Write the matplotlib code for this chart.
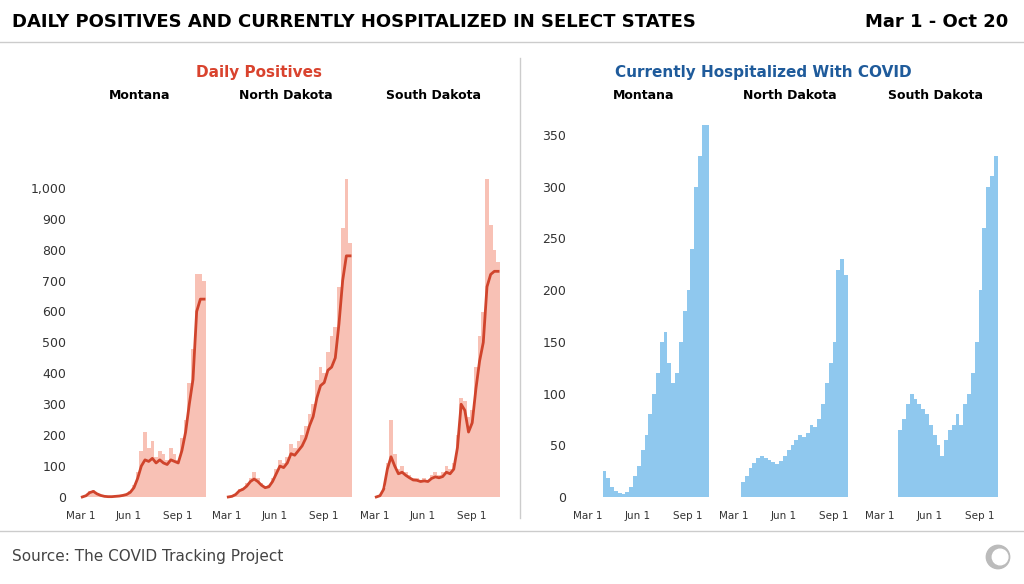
import numpy as np
import matplotlib
matplotlib.use("Agg")
import matplotlib.pyplot as plt
from matplotlib.patches import Circle

states = ["Montana", "North Dakota", "South Dakota"]
tick_days = [0, 92, 184]
tick_labels = ["Mar 1", "Jun 1", "Sep 1"]
# weekly values, week i starts at day 7*i from Mar 1
pos_bars = {
    "Montana": [0, 5, 18, 22, 12, 6, 3, 1, 1, 2, 4, 6, 10, 18, 40, 80, 150, 210, 160, 180, 130, 150, 140, 120, 160, 140, 120, 190, 250, 370, 480, 720, 720, 700],
    "North Dakota": [0, 3, 10, 25, 30, 45, 60, 80, 60, 45, 35, 40, 60, 90, 120, 110, 130, 170, 160, 180, 200, 230, 270, 300, 380, 420, 400, 470, 520, 550, 680, 870, 1030, 820],
    "South Dakota": [0, 5, 30, 110, 250, 140, 90, 100, 80, 70, 60, 60, 55, 60, 55, 70, 80, 70, 80, 100, 90, 110, 200, 320, 310, 260, 280, 420, 520, 600, 1030, 880, 800, 760],
}
pos_avg = {
    "Montana": [0, 4, 14, 18, 10, 5, 2, 1, 1, 2, 3, 5, 8, 15, 30, 60, 100, 120, 115, 125, 110, 120, 110, 105, 120, 115, 110, 150, 210, 300, 380, 600, 640, 640],
    "North Dakota": [0, 2, 8, 20, 25, 35, 50, 58, 50, 38, 30, 33, 50, 75, 100, 95, 110, 140, 135, 150, 165, 190, 230, 260, 320, 360, 370, 410, 420, 450, 560, 700, 780, 780],
    "South Dakota": [0, 4, 25, 90, 130, 100, 75, 80, 70, 62, 55, 54, 50, 52, 50, 60, 65, 62, 66, 80, 75, 90, 160, 300, 280, 210, 240, 350, 440, 500, 680, 720, 730, 730],
}
hosp = {
    "Montana": [np.nan, np.nan, np.nan, np.nan, 25, 18, 10, 6, 4, 3, 5, 10, 20, 30, 45, 60, 80, 100, 120, 150, 160, 130, 110, 120, 150, 180, 200, 240, 300, 330, 360, 360, np.nan, np.nan],
    "North Dakota": [np.nan, np.nan, 15, 20, 28, 33, 38, 40, 38, 36, 34, 32, 35, 40, 45, 50, 55, 60, 58, 62, 70, 68, 75, 90, 110, 130, 150, 220, 230, 215, np.nan, np.nan, np.nan, np.nan],
    "South Dakota": [np.nan, np.nan, np.nan, np.nan, np.nan, 65, 75, 90, 100, 95, 90, 85, 80, 70, 60, 50, 40, 55, 65, 70, 80, 70, 90, 100, 120, 150, 200, 260, 300, 310, 330, np.nan, np.nan, np.nan],
}

W, H = 1024, 584
fig = plt.figure(figsize=(W/100, H/100), dpi=100)
fig.patch.set_facecolor("white")

def ax_at(x0, x1, y0, y1):
    return fig.add_axes([x0/W, 1-y1/H, (x1-x0)/W, (y1-y0)/H])

weeks = np.arange(34)*7
left_x = [(72, 208), (218, 354), (366, 502)]
right_x = [(572, 716), (718, 862), (864, 1008)]
top, bot = 118, 505

for i, s in enumerate(states):
    ax = ax_at(*left_x[i], top, bot)
    ax.bar(weeks, pos_bars[s], width=7, align="edge", color="#f8c1b5", linewidth=0)
    ax.plot(weeks+3.5, pos_avg[s], color="#d0442c", lw=2)
    ax.set_xlim(-16, 242); ax.set_ylim(-26, 1226)
    ax.text(0.5, 1.05, s, transform=ax.transAxes, ha="center", fontsize=9, fontweight="bold")
    ax.set_xticks(tick_days); ax.set_xticklabels(tick_labels, fontsize=7.5, color="#333")
    if i == 0:
        ax.set_yticks([0, 100, 200, 300, 400, 500, 600, 700, 800, 900, 1000])
        ax.set_yticklabels(["0", "100", "200", "300", "400", "500", "600", "700", "800", "900", "1,000"], fontsize=9, color="#333")
    else:
        ax.set_yticks([])
    ax.tick_params(length=0, pad=4)
    for sp in ax.spines.values(): sp.set_visible(False)
    ax.patch.set_alpha(0)

    ax2 = ax_at(*right_x[i], top, bot)
    ax2.bar(weeks, hosp[s], width=7, align="edge", color="#8fc8ee", linewidth=0)
    ax2.set_xlim(-28, 236); ax2.set_ylim(-7.7, 366.5)
    ax2.text(0.5, 1.05, s, transform=ax2.transAxes, ha="center", fontsize=9, fontweight="bold")
    ax2.set_xticks(tick_days); ax2.set_xticklabels(tick_labels, fontsize=7.5, color="#333")
    if i == 0:
        ax2.set_yticks([0, 50, 100, 150, 200, 250, 300, 350])
        ax2.set_yticklabels([str(v) for v in [0, 50, 100, 150, 200, 250, 300, 350]], fontsize=9, color="#333")
    else:
        ax2.set_yticks([])
    ax2.tick_params(length=0, pad=4)
    for sp in ax2.spines.values(): sp.set_visible(False)
    ax2.patch.set_alpha(0)

fig.text(12/W, 1-22/H, "DAILY POSITIVES AND CURRENTLY HOSPITALIZED IN SELECT STATES", fontsize=13, fontweight="bold", va="center")
fig.text(1008/W, 1-22/H, "Mar 1 - Oct 20", fontsize=13, fontweight="bold", va="center", ha="right")
fig.text(259/W, 1-72/H, "Daily Positives", fontsize=11, fontweight="bold", color="#d9432e", ha="center", va="center")
fig.text(763/W, 1-72/H, "Currently Hospitalized With COVID", fontsize=11, fontweight="bold", color="#1f5b9b", ha="center", va="center")
fig.text(12/W, 1-557/H, "Source: The COVID Tracking Project", fontsize=11, color="#444", va="center")
fig.add_artist(plt.Line2D([0, 1], [1-42/H, 1-42/H], color="#ccc", lw=1))
fig.add_artist(plt.Line2D([0, 1], [1-531/H, 1-531/H], color="#ccc", lw=1))
fig.add_artist(plt.Line2D([520/W, 520/W], [1-58/H, 1-518/H], color="#ccc", lw=1))
axl = fig.add_axes([985/W, 1-570/H, 26/W, 26/H]); axl.set_aspect("equal"); axl.axis("off")
axl.add_patch(Circle((0.5, 0.5), 0.45, color="#bbb")); axl.add_patch(Circle((0.58, 0.5), 0.3, color="white"))
axl.set_xlim(0, 1); axl.set_ylim(0, 1)
fig.savefig("out.png", dpi=100)
